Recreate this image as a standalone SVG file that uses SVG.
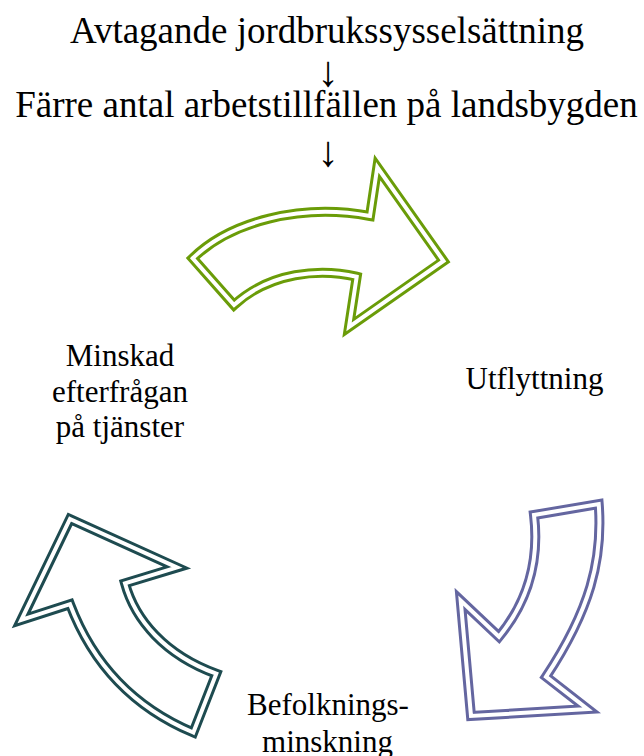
<svg xmlns="http://www.w3.org/2000/svg" width="644" height="756" viewBox="0 0 644 756">
  <style>
    .t { fill: #000; text-anchor: middle; font-family: 'Liberation Serif', serif; }
    .title { font-size: 37px; }
    .arr { font-size: 43px; }
    .lbl { font-size: 31px; }
    .outer { fill: #fff; stroke-width: 10; stroke-linejoin: miter; stroke-miterlimit: 20; }
    .inner { fill: none; stroke: #fff; stroke-width: 4; stroke-linejoin: miter; stroke-miterlimit: 20; }
    .green { stroke: #6a9c08; }
    .purple { stroke: #6466a0; }
    .teal { stroke: #1e4b50; }
  </style>
  <rect width="644" height="756" fill="#fff"/>

  <g id="header" font-family="Liberation Serif, serif">
    <text class="t title" x="327" y="43">Avtagande jordbrukssysselsättning</text>
    <text class="t arr" x="328" y="86">↓</text>
    <text class="t title" x="326.5" y="117">Färre antal arbetstillfällen på landsbygden</text>
    <text class="t arr" x="328" y="166">↓</text>
  </g>

  <g id="arrow-green">
    <path class="outer green" d="M192.7,258.3 C230,222 300,203 370,216 L377.3,167.3 L443.5,261 L349,327 L356.7,276.7 C320,268 270,272 234,305 Z"/>
    <path class="inner" d="M192.7,258.3 C230,222 300,203 370,216 L377.3,167.3 L443.5,261 L349,327 L356.7,276.7 C320,268 270,272 234,305 Z"/>
  </g>

  <g id="arrow-purple">
    <path class="outer purple" d="M534,515 L598.7,504 C603,560 590,610 546,676.7 L587.5,709 L471,716 L460.7,600.5 L499,636.7 C525,605 540,565 534,515 Z"/>
    <path class="inner" d="M534,515 L598.7,504 C603,560 590,610 546,676.7 L587.5,709 L471,716 L460.7,600.5 L499,636.7 C525,605 540,565 534,515 Z"/>
  </g>

  <g id="arrow-teal">
    <path class="outer teal" d="M70,519 L177,567.5 L125,583.3 C135,620 165,655 216.3,673.7 L193.3,732.5 C140,710 95,670 70,604.2 L21.3,620 Z"/>
    <path class="inner" d="M70,519 L177,567.5 L125,583.3 C135,620 165,655 216.3,673.7 L193.3,732.5 C140,710 95,670 70,604.2 L21.3,620 Z"/>
  </g>

  <g id="label-minskad" font-family="Liberation Serif, serif">
    <text class="t lbl" x="120" y="366">Minskad</text>
    <text class="t lbl" x="120" y="401.5">efterfrågan</text>
    <text class="t lbl" x="120" y="437">på tjänster</text>
  </g>

  <g id="label-utflyttning" font-family="Liberation Serif, serif">
    <text class="t lbl" x="534.5" y="389">Utflyttning</text>
  </g>

  <g id="label-befolkning" font-family="Liberation Serif, serif">
    <text class="t lbl" x="328" y="715">Befolknings-</text>
    <text class="t lbl" x="327.5" y="752">minskning</text>
  </g>
</svg>
